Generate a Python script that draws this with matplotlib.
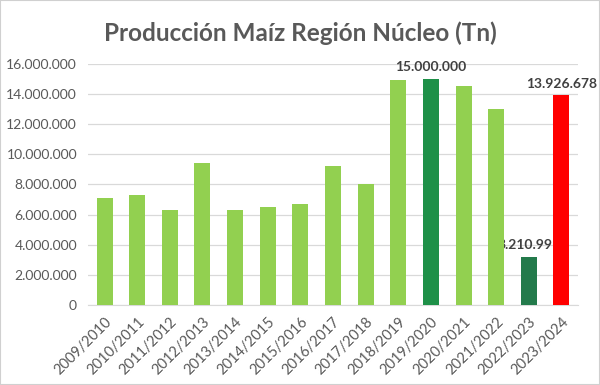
import matplotlib
matplotlib.use("Agg")
import matplotlib.pyplot as plt
from matplotlib.patches import Rectangle

categories = ["2009/2010", "2010/2011", "2011/2012", "2012/2013", "2013/2014",
              "2014/2015", "2015/2016", "2016/2017", "2017/2018", "2018/2019",
              "2019/2020", "2020/2021", "2021/2022", "2022/2023", "2023/2024"]
values = [7070000, 7290000, 6270000, 9400000, 6310000,
          6530000, 6690000, 9200000, 8040000, 14940000,
          15000000, 14540000, 13030000, 3210991, 13926678]
colors = ["#92D050"] * 10 + ["#1E9048", "#92D050", "#92D050", "#237A4B", "#FF0000"]
labelled = {10: "15.000.000", 13: "3.210.991", 14: "13.926.678"}
yticks = list(range(0, 16000001, 2000000))

def fmt(v):
    return f"{v:,}".replace(",", ".")

fig = plt.figure(figsize=(6, 3.85), dpi=100)
fig.patches.append(Rectangle((0, 0), 1, 1, transform=fig.transFigure,
                             fill=False, edgecolor="#D0D0D0", linewidth=1.5))
ax = fig.add_axes([0.147, 0.208, 0.816, 0.626])

x = list(range(len(categories)))
ax.bar(x, values, width=0.49, color=colors, zorder=3)
for i, txt in labelled.items():
    ax.annotate(txt, (i, values[i]), xytext=(0, 4), textcoords="offset points",
                ha="center", va="bottom", fontsize=10, fontweight="bold",
                color="#404040", family="Lato", zorder=2)

ax.set_xlim(-0.5, len(categories) - 0.5)
ax.set_ylim(0, 16000000)
ax.set_yticks(yticks)
ax.set_yticklabels([fmt(v) for v in yticks], fontsize=10, color="#595959", family="Lato")
ax.set_xticks(x)
ax.set_xticklabels(categories, rotation=45, ha="right", rotation_mode="anchor",
                   fontsize=10.5, color="#595959", family="Lato")
ax.tick_params(axis="y", length=0, pad=8)
ax.tick_params(axis="x", length=0, pad=7)
ax.grid(axis="y", color="#D9D9D9", linewidth=0.9, zorder=0)
for s in ["top", "right", "left"]:
    ax.spines[s].set_visible(False)
ax.spines["bottom"].set_color("#D9D9D9")
ax.set_axisbelow(True)

fig.text(0.5, 0.915, "Producción Maíz Región Núcleo (Tn)", ha="center", va="center",
         fontsize=17.5, fontweight="bold", color="#595959", family="Lato")

fig.savefig("out.png", dpi=100)
